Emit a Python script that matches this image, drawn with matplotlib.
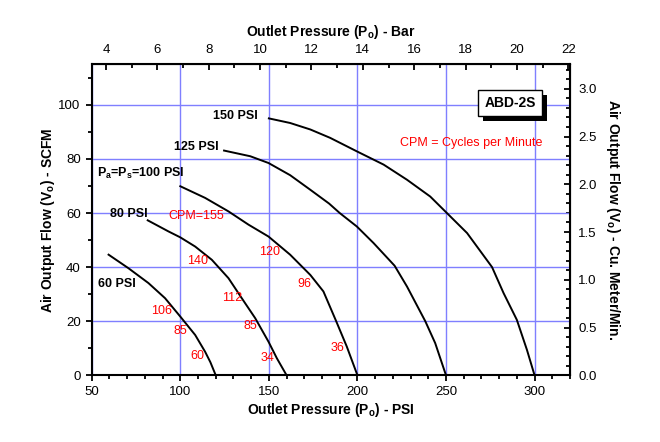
import matplotlib
matplotlib.use("Agg")
import matplotlib.pyplot as plt
import matplotlib.patheffects as pe
from matplotlib.ticker import MultipleLocator, FormatStrFormatter

plt.rcParams['font.family'] = ['Liberation Sans', 'DejaVu Sans']
plt.rcParams['mathtext.fontset'] = 'custom'
plt.rcParams['mathtext.rm'] = 'Liberation Sans'
plt.rcParams['mathtext.bf'] = 'Liberation Sans:bold'

# curves: outlet pressure (psi) vs air flow (scfm)
psi_60 = [59.5, 70.7, 82, 91.4, 100, 108.4, 114, 117, 120]
flow_60 = [44.6, 39.6, 34.1, 28.5, 21.7, 14.9, 8.7, 4.8, 0]

psi_80 = [81.6, 93.3, 100, 108.4, 117.8, 127.2, 134.7, 142.3, 149.8, 154.5, 160]
flow_80 = [57.3, 53.2, 51.0, 47.6, 42.7, 35.9, 28.5, 21.1, 12.4, 6.3, 0]

psi_100 = [100, 114, 127.2, 138.5, 149.8, 162, 173.4, 180.8, 188, 194, 200]
flow_100 = [69.9, 65.6, 60.6, 55.7, 51.3, 44.6, 37.1, 31.0, 20.0, 10.6, 0]

psi_125 = [124.7, 139.5, 149.8, 162, 173.4, 184, 190, 199.7, 209.1, 221, 228, 238.3, 243.9, 250]
flow_125 = [83.1, 81.0, 78.5, 74.0, 68.6, 63.5, 60.0, 55.0, 48.9, 40.5, 32.8, 20.0, 11.9, 0]

psi_150 = [150, 162, 173.4, 184.6, 199.7, 214.8, 228, 241.1, 250.5, 261.9, 276, 282.5, 290, 295.7, 300]
flow_150 = [95.0, 93.3, 90.9, 87.8, 82.8, 77.9, 72.3, 66.1, 60, 52.6, 40.0, 30.4, 20.5, 9.4, 0]

curves = [(psi_60, flow_60), (psi_80, flow_80), (psi_100, flow_100),
          (psi_125, flow_125), (psi_150, flow_150)]

# curve labels (black) and CPM labels (red)
psi_labels = ["150 PSI", "125 PSI", r"P$_\mathregular{a}$=P$_\mathregular{s}$=100 PSI", "80 PSI", "60 PSI"]
psi_label_x = [131.1, 108.8, 77.5, 70.7, 64.1]
psi_label_y = [95.8, 84.4, 74.6, 59.6, 33.7]

cpm_labels = ["CPM=155", "140", "120", "96", "112", "106", "85", "85", "60", "34", "36"]
cpm_x = [109.0, 109.9, 150.2, 170.0, 129.1, 89.7, 99.8, 139.6, 109.6, 149.2, 188.6]
cpm_y = [59.0, 42.1, 45.6, 33.8, 28.5, 23.9, 16.5, 18.3, 7.3, 6.5, 10.0]


def psi2bar(p):
    return p / 14.5038


def bar2psi(b):
    return b * 14.5038


def scfm2cmm(q):
    return q / 35.3147


def cmm2scfm(q):
    return q * 35.3147


fig = plt.figure(figsize=(6.6, 4.42), dpi=100)
ax = fig.add_axes([0.139, 0.151, 0.7246, 0.7035])

for xs, ys in curves:
    ax.plot(xs, ys, color='black', lw=1.4, zorder=3)

ax.set_xlim(50, 320)
ax.set_ylim(0, 115)
ax.xaxis.set_major_locator(MultipleLocator(50))
ax.xaxis.set_minor_locator(MultipleLocator(10))
ax.yaxis.set_major_locator(MultipleLocator(20))
ax.yaxis.set_minor_locator(MultipleLocator(10))
ax.grid(which='major', color='#7f7fff', lw=1.0, zorder=1)
ax.tick_params(which='both', direction='out', width=1.3, labelsize=9.5)
ax.tick_params(which='major', length=4.5)
ax.tick_params(which='minor', length=3)
for s in ax.spines.values():
    s.set_linewidth(1.5)

ax.set_xlabel(r"Outlet Pressure (P$_\mathbf{o}$) - PSI", fontsize=10, fontweight='bold', labelpad=2)
ax.set_ylabel(r"Air Output Flow (V$_\mathbf{o}$) - SCFM", fontsize=10, fontweight='bold', labelpad=1)

top = ax.secondary_xaxis('top', functions=(psi2bar, bar2psi))
top.xaxis.set_major_locator(MultipleLocator(2))
top.xaxis.set_minor_locator(MultipleLocator(1))
top.tick_params(which='both', direction='in', width=1.3, labelsize=9.5, pad=6)
top.tick_params(which='major', length=4.5)
top.tick_params(which='minor', length=3)
top.set_xlabel(r"Outlet Pressure (P$_\mathbf{o}$) - Bar", fontsize=10, fontweight='bold', labelpad=6)

right = ax.secondary_yaxis('right', functions=(scfm2cmm, cmm2scfm))
right.yaxis.set_major_locator(MultipleLocator(0.5))
right.yaxis.set_minor_locator(MultipleLocator(0.1))
right.yaxis.set_major_formatter(FormatStrFormatter('%.1f'))
right.tick_params(which='both', direction='in', width=1.3, labelsize=9.5, pad=6)
right.tick_params(which='major', length=4.5)
right.tick_params(which='minor', length=3)
right.set_ylabel(r"Air Output Flow (V$_\mathbf{o}$) - Cu. Meter/Min.", fontsize=10,
                 fontweight='bold', rotation=270, labelpad=18)

for t, x, y in zip(psi_labels, psi_label_x, psi_label_y):
    ax.text(x, y, t, fontsize=9, fontweight='bold', ha='center', va='center', zorder=4)

for t, x, y in zip(cpm_labels, cpm_x, cpm_y):
    ax.text(x, y, t, fontsize=9, color='red', ha='center', va='center', zorder=4)

ax.text(264, 85.9, "CPM = Cycles per Minute", fontsize=9, color='red',
        ha='center', va='center', zorder=4)

# model box with a drop shadow
box = ax.text(286.3, 100.7, "ABD-2S", fontsize=10, fontweight='bold', ha='center', va='center',
              bbox=dict(boxstyle='square,pad=0.45', fc='white', ec='black', lw=1), zorder=6)
box.get_bbox_patch().set_path_effects([
    pe.SimplePatchShadow(offset=(3.6, -3.6), shadow_rgbFace='black', alpha=1.0),
    pe.Normal()])

fig.savefig("out.png", dpi=100)
